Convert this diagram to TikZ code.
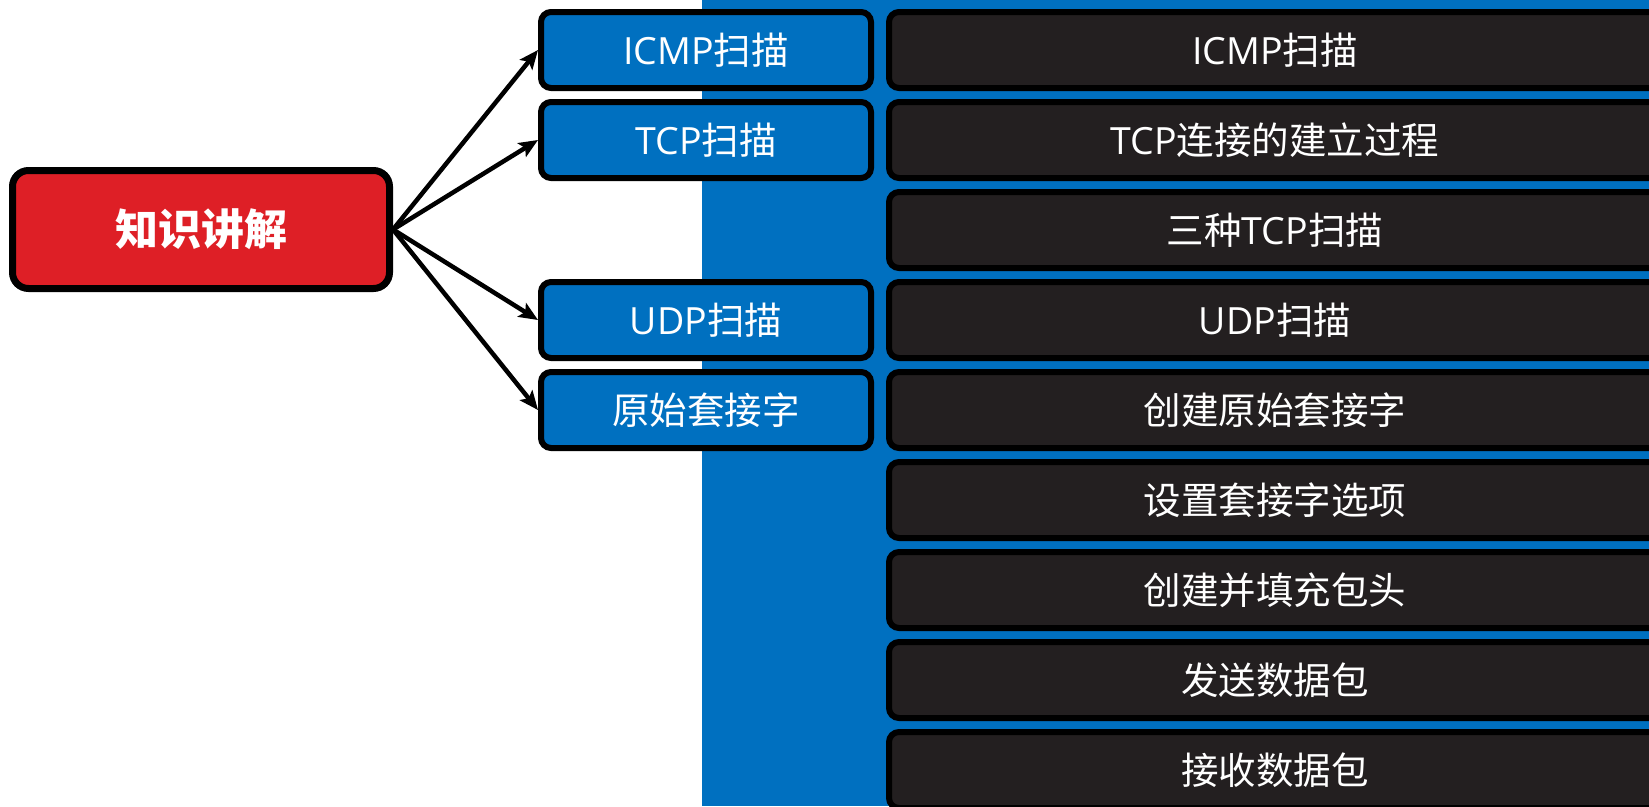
\documentclass[tikz,border=0pt]{standalone}
\usepackage{fontspec}
\usetikzlibrary{arrows.meta}
\newfontfamily\cjk{Noto Sans CJK SC}
\newfontfamily\latf{Open Sans}
\newcommand\lt[1]{{\latf #1}}
\definecolor{bgblue}{HTML}{0070C0}
\definecolor{darkbox}{HTML}{231F20}
\definecolor{redbox}{HTML}{DE1F26}
\begin{document}
\begin{tikzpicture}[x=1pt,y=-1pt,
  topic/.style={draw=black, line width=6pt, rounded corners=10pt, fill=bgblue,
    minimum width=330pt, minimum height=76pt, inner sep=0pt, text=white,
    font=\cjk\fontsize{37.5}{45}\selectfont},
  detail/.style={topic, fill=darkbox, minimum width=772pt},
  mainbox/.style={draw=black, line width=7pt, rounded corners=16pt, fill=redbox,
    minimum width=377pt, minimum height=118pt, inner sep=0pt, text=white,
    font=\cjk\bfseries\fontsize{43}{50}\selectfont},
  link/.style={line width=4.5pt, -{Stealth[length=19pt,width=16pt,inset=4pt]}}]
\useasboundingbox (0,0) rectangle (1649,806);
\clip (0,0) rectangle (1649,806);
\fill[white] (0,0) rectangle (1649,806);
\fill[bgblue] (702,0) rectangle (1649,806);

\node[mainbox] (main) at (201,229.5) {知识讲解};

\node[topic] (t0) at (706,50)  {\lt{ICMP}扫描};
\node[topic] (t1) at (706,140) {\lt{TCP}扫描};
\node[topic] (t3) at (706,320) {\lt{UDP}扫描};
\node[topic] (t4) at (706,410) {原始套接字};

\node[detail] (d0) at (1275,50)  {\lt{ICMP}扫描};
\node[detail] (d1) at (1275,140) {\lt{TCP}连接的建立过程};
\node[detail] (d2) at (1275,230) {三种\lt{TCP}扫描};
\node[detail] (d3) at (1275,320) {\lt{UDP}扫描};
\node[detail] (d4) at (1275,410) {创建原始套接字};
\node[detail] (d5) at (1275,500) {设置套接字选项};
\node[detail] (d6) at (1275,590) {创建并填充包头};
\node[detail] (d7) at (1275,680) {发送数据包};
\node[detail] (d8) at (1275,770) {接收数据包};

\draw[link] (main.east) -- (t0.west);
\draw[link] (main.east) -- (t1.west);
\draw[link] (main.east) -- (t3.west);
\draw[link] (main.east) -- (t4.west);
\end{tikzpicture}
\end{document}
